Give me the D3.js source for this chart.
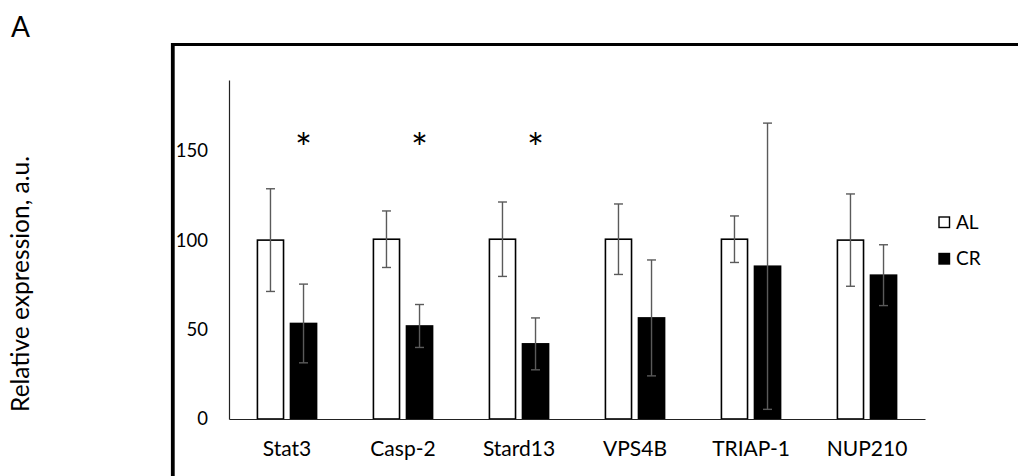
<!DOCTYPE html>
<html>
<head>
<meta charset="utf-8">
<script src="https://cdn.jsdelivr.net/npm/d3@7"></script>
<style>
  body { margin: 0; background: #fff; }
  text { font-family: Lato, "Open Sans", sans-serif; fill: #000; }
</style>
</head>
<body>
<div class="chart"></div>
<script>
const categories = ['Stat3', 'Casp-2', 'Stard13', 'VPS4B', 'TRIAP-1', 'NUP210'];
const series = ['AL', 'CR'];
const alValues = [100, 100.5, 100.5, 100.5, 100.5, 100];
const crValues = [53.4, 52, 42, 56.5, 85.4, 80.4];
const alErrors = [28.7, 15.8, 20.8, 19.7, 13, 25.8];
const crErrors = [22, 12, 14.5, 32.4, 80, 17];
const significant = [true, true, true, false, false, false];
const yTicks = [0, 50, 100, 150];

const width = 1018, height = 476;
const plotLeft = 229, plotRight = 925, plotTop = 80, plotBottom = 419;

const svg = d3.select('.chart').append('svg')
  .attr('width', width)
  .attr('height', height);

// panel letter and frame
svg.append('text')
  .attr('x', 11).attr('y', 37)
  .style('font-size', '28px')
  .text('A');

svg.append('line')
  .attr('x1', 171).attr('x2', width).attr('y1', 44.5).attr('y2', 44.5)
  .attr('stroke', '#000').attr('stroke-width', 3.2);
svg.append('line')
  .attr('x1', 172.8).attr('x2', 172.8).attr('y1', 43).attr('y2', height)
  .attr('stroke', '#000').attr('stroke-width', 3.8);

const xScale = d3.scaleBand().domain(categories).range([plotLeft, plotRight]);
const inner = d3.scaleBand().domain(series)
  .range([0, xScale.bandwidth()])
  .paddingInner(0.21).paddingOuter(0.86);
const yScale = d3.scaleLinear().domain([0, 189.5]).range([plotBottom, plotTop]);

// y axis
const yAxis = svg.append('g')
  .attr('transform', 'translate(' + plotLeft + ',0)')
  .call(d3.axisLeft(yScale).tickValues(yTicks).tickSize(0).tickPadding(21).tickFormat(d3.format('d')));
yAxis.select('.domain').attr('stroke', '#222').attr('stroke-width', 1.2);
yAxis.selectAll('text').style('font-size', '18.5px').style('font-family', 'Lato, sans-serif');

const rows = categories.map((c, i) => ({
  cat: c,
  vals: [
    { s: 'AL', v: alValues[i], e: alErrors[i] },
    { s: 'CR', v: crValues[i], e: crErrors[i] }
  ]
}));

const groups = svg.selectAll('g.grp')
  .data(rows)
  .enter().append('g')
  .attr('class', 'grp')
  .attr('transform', d => 'translate(' + xScale(d.cat) + ',0)');

groups.selectAll('rect')
  .data(d => d.vals)
  .enter().append('rect')
  .attr('x', d => inner(d.s))
  .attr('y', d => yScale(d.v))
  .attr('width', inner.bandwidth())
  .attr('height', d => yScale(0) - yScale(d.v))
  .attr('fill', d => d.s === 'AL' ? '#fff' : '#000')
  .attr('stroke', '#000')
  .attr('stroke-width', 1.6);

// error bars
const err = groups.selectAll('g.err')
  .data(d => d.vals)
  .enter().append('g')
  .attr('class', 'err')
  .attr('stroke', '#5a5a5a')
  .attr('stroke-width', 1.4);
err.append('line')
  .attr('x1', d => inner(d.s) + inner.bandwidth() / 2)
  .attr('x2', d => inner(d.s) + inner.bandwidth() / 2)
  .attr('y1', d => yScale(d.v + d.e))
  .attr('y2', d => yScale(d.v - d.e));
[1, -1].forEach(sign => {
  err.append('line')
    .attr('x1', d => inner(d.s) + inner.bandwidth() / 2 - 4.5)
    .attr('x2', d => inner(d.s) + inner.bandwidth() / 2 + 4.5)
    .attr('y1', d => yScale(d.v + sign * d.e))
    .attr('y2', d => yScale(d.v + sign * d.e));
});

// x axis
const xAxis = svg.append('g')
  .attr('transform', 'translate(0,' + plotBottom + ')')
  .call(d3.axisBottom(xScale).tickSize(0).tickPadding(22));
xAxis.select('.domain').attr('stroke', '#222').attr('stroke-width', 1.2);
xAxis.selectAll('text').style('font-size', '21px').style('font-family', 'Lato, sans-serif');

// significance marks
svg.selectAll('text.star')
  .data(categories.filter((c, i) => significant[i]))
  .enter().append('text')
  .attr('class', 'star')
  .attr('x', d => xScale(d) + inner('CR') + inner.bandwidth() / 2)
  .attr('y', yScale(143))
  .attr('text-anchor', 'middle')
  .style('font-size', '40px')
  .text('*');

// legend
const legend = svg.selectAll('g.leg')
  .data(series)
  .enter().append('g')
  .attr('class', 'leg')
  .attr('transform', (d, i) => 'translate(939,' + (217 + i * 36.5) + ')');
legend.append('rect')
  .attr('width', 10.5).attr('height', 10.5)
  .attr('fill', d => d === 'AL' ? '#fff' : '#000')
  .attr('stroke', '#000').attr('stroke-width', 1.4);
legend.append('text')
  .attr('x', 17).attr('y', 11.5)
  .style('font-size', '19px')
  .text(d => d);

// y title
svg.append('text')
  .attr('transform', 'translate(29,284) rotate(-90)')
  .attr('text-anchor', 'middle')
  .style('font-size', '24.5px')
  .text('Relative expression, a.u.');
</script>
</body>
</html>
